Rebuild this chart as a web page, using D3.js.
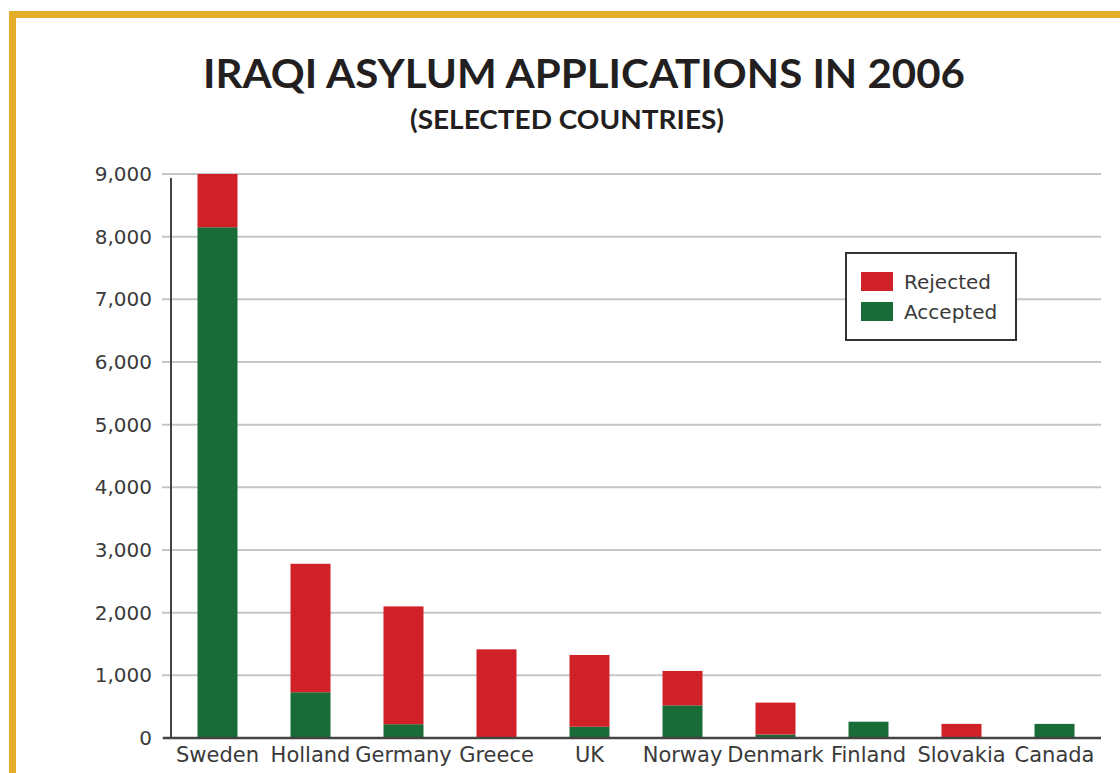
<!DOCTYPE html>
<html>
<head>
<meta charset="utf-8">
<script src="https://cdn.jsdelivr.net/npm/d3@7"></script>
<style>
  body { margin: 0; background: #fff; }
  svg { display: block; }
</style>
</head>
<body>
<div id="chart"></div>
<script>
const countries = ['Sweden', 'Holland', 'Germany', 'Greece', 'UK', 'Norway', 'Denmark', 'Finland', 'Slovakia', 'Canada']
const accepted = [8150, 730, 220, 0, 180, 520, 55, 260, 0, 225]
const rejected = [850, 2050, 1880, 1415, 1145, 550, 510, 0, 225, 0]
const yTicks = [0, 1000, 2000, 3000, 4000, 5000, 6000, 7000, 8000, 9000]
const legendItems = [
  { key: 'rejected', label: 'Rejected' },
  { key: 'accepted', label: 'Accepted' }
]

const W = 1120
const H = 773
const margin = { top: 174, right: 19, bottom: 35, left: 171 }

const colors = { accepted: '#196b38', rejected: '#d02128' }

const svg = d3
  .select('#chart')
  .append('svg')
  .attr('width', W)
  .attr('height', H)

// gold frame
svg.append('rect')
  .attr('x', 9).attr('y', 11)
  .attr('width', W).attr('height', H)
  .attr('fill', 'none')
  .attr('stroke', '#e4ad2a')
  .attr('stroke-width', 7)
  .attr('transform', 'translate(3.5,3.5)')

svg.append('text')
  .text('IRAQI ASYLUM APPLICATIONS IN 2006')
  .attr('x', 203).attr('y', 88)
  .attr('textLength', 762)
  .attr('lengthAdjust', 'spacingAndGlyphs')
  .attr('font-family', 'Lato, "Open Sans", sans-serif')
  .attr('font-weight', 'bold')
  .attr('font-size', 40)
  .attr('fill', '#231f20')

svg.append('text')
  .text('(SELECTED COUNTRIES)')
  .attr('x', 410).attr('y', 129)
  .attr('textLength', 314)
  .attr('lengthAdjust', 'spacingAndGlyphs')
  .attr('font-family', 'Lato, "Open Sans", sans-serif')
  .attr('font-weight', 'bold')
  .attr('font-size', 27)
  .attr('fill', '#231f20')

const data = countries.map((c, i) => ({
  country: c,
  accepted: accepted[i],
  rejected: rejected[i]
}))

const x = d3.scaleBand()
  .domain(countries)
  .range([margin.left, W - margin.right])
  .paddingInner(0.57)
  .paddingOuter(0.285)

const y = d3.scaleLinear()
  .domain([0, 9000])
  .range([H - margin.bottom, margin.top])

// gridlines
svg.append('g')
  .selectAll('line')
  .data(yTicks)
  .enter()
  .append('line')
  .attr('x1', margin.left - 9)
  .attr('x2', W - margin.right)
  .attr('y1', d => y(d))
  .attr('y2', d => y(d))
  .attr('stroke', '#c6c6c6')
  .attr('stroke-width', 2)

const stack = d3.stack().keys(['accepted', 'rejected'])
const series = stack(data)

svg.append('g')
  .selectAll('g')
  .data(series)
  .enter()
  .append('g')
  .attr('fill', d => colors[d.key])
  .selectAll('rect')
  .data(d => d)
  .enter()
  .append('rect')
  .attr('x', d => x(d.data.country))
  .attr('width', x.bandwidth())
  .attr('y', d => y(d[1]))
  .attr('height', d => y(d[0]) - y(d[1]))

const yAxis = d3.axisLeft(y)
  .tickValues(yTicks)
  .tickFormat(d3.format(','))
  .tickSize(0)
  .tickPadding(19)

svg.append('g')
  .attr('class', 'y-axis')
  .attr('transform', `translate(${margin.left},0)`)
  .call(yAxis)
  .call(g => g.select('.domain').remove())
  .selectAll('text')
  .attr('font-family', '"DejaVu Sans", sans-serif')
  .attr('font-size', 20)
  .attr('fill', '#3a3a3a')

// y axis line
svg.append('line')
  .attr('x1', margin.left).attr('x2', margin.left)
  .attr('y1', y(9000) + 4).attr('y2', y(0))
  .attr('stroke', '#444')
  .attr('stroke-width', 2)

// baseline
svg.append('line')
  .attr('x1', margin.left - 8).attr('x2', W - margin.right)
  .attr('y1', y(0)).attr('y2', y(0))
  .attr('stroke', '#444')
  .attr('stroke-width', 2.5)

const xAxis = d3.axisBottom(x).tickSize(0).tickPadding(9)

svg.append('g')
  .attr('class', 'x-axis')
  .attr('transform', `translate(0,${y(0)})`)
  .call(xAxis)
  .call(g => g.select('.domain').remove())
  .selectAll('text')
  .attr('font-family', '"DejaVu Sans", sans-serif')
  .attr('font-size', 21)
  .attr('fill', '#3a3a3a')

// legend
const legend = svg.append('g').attr('transform', 'translate(846,253)')

legend.append('rect')
  .attr('width', 170).attr('height', 87)
  .attr('fill', '#fff')
  .attr('stroke', '#333')
  .attr('stroke-width', 2)

const item = legend.selectAll('.item')
  .data(legendItems)
  .enter()
  .append('g')
  .attr('class', 'item')
  .attr('transform', (d, i) => `translate(15,${19 + i * 30})`)

item.append('rect')
  .attr('width', 32).attr('height', 19)
  .attr('fill', d => colors[d.key])

item.append('text')
  .text(d => d.label)
  .attr('x', 43).attr('y', 17)
  .attr('font-family', '"DejaVu Sans", sans-serif')
  .attr('font-size', 20)
  .attr('fill', '#3a3a3a')
</script>
</body>
</html>
